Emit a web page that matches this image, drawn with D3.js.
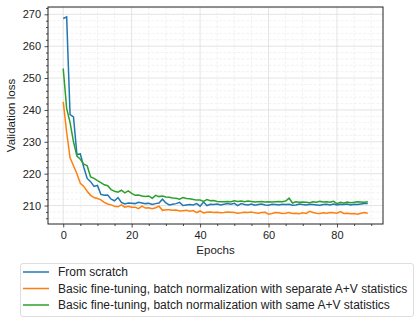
<!DOCTYPE html>
<html>
<head>
<meta charset="utf-8">
<script src="https://cdn.jsdelivr.net/npm/d3@7"></script>
<style>
  body { margin: 0; background: #fff; }
  text { font-family: "Liberation Sans", Arial, sans-serif; }
</style>
</head>
<body>
<div id="chart"></div>
<script>
// values
var seriesNames = [
    "From scratch",
    "Basic fine-tuning, batch normalization with separate A+V statistics",
    "Basic fine-tuning, batch normalization with same A+V statistics"
];
var seriesColors = ["#1f77b4", "#ff7f0e", "#2ca02c"];

var fromScratch = [268.7, 269.2, 238.5, 237.8, 226.0, 226.2, 222.0, 218.5, 217.5, 216.0,
    216.3, 213.5, 213.2, 213.3, 212.0, 211.5, 212.5, 211.0, 210.5, 210.8,
    210.7, 210.6, 211.0, 210.8, 210.6, 210.7, 210.3, 210.6, 210.8, 212.0,
    210.8, 210.2, 210.4, 210.6, 211.0, 210.0, 210.2, 210.3, 210.2, 210.6,
    209.8, 211.1, 210.0, 210.4, 210.3, 210.5, 210.2, 210.4, 210.6, 210.4,
    210.7, 210.0, 210.6, 210.3, 210.2, 210.5, 210.1, 210.3, 210.5, 210.2,
    210.1, 210.4, 210.3, 210.2, 210.4, 210.3, 210.4, 210.1, 210.2, 210.5,
    210.3, 210.2, 210.4, 210.3, 210.2, 210.1, 210.3, 210.4, 210.2, 210.5,
    210.2, 210.4, 210.3, 210.5, 210.2, 210.4, 210.3, 210.5, 210.6, 210.6];

var separateStats = [242.5, 233.0, 225.0, 222.5, 220.0, 217.0, 216.0, 214.5, 213.2, 212.5,
    212.2, 211.8, 211.0, 210.5, 210.2, 209.8, 209.6, 210.2, 209.5, 209.8,
    209.5, 209.5, 209.0, 209.8, 209.2, 209.3, 209.0, 209.3, 209.8, 208.5,
    208.7, 208.7, 208.5, 208.6, 208.3, 208.4, 208.5, 208.2, 208.4, 207.8,
    208.3, 207.7, 207.9, 208.0, 207.8, 207.9, 207.7, 207.8, 208.0, 207.9,
    207.8, 207.6, 207.7, 207.9, 207.8, 208.0, 207.7, 207.6, 207.8, 207.9,
    207.3, 207.5, 207.8, 207.7, 207.5, 207.6, 207.8, 207.5, 207.6, 207.4,
    207.7, 207.5, 208.2, 207.8, 207.6, 207.5, 207.7, 207.6, 207.8, 207.7,
    207.6, 208.1, 207.5, 207.6, 207.4, 207.5, 207.3, 207.6, 207.8, 207.6];

var sameStats = [253.0, 240.5, 236.0, 230.0, 225.5, 224.5, 223.0, 222.5, 219.0, 218.5,
    217.8, 217.2, 216.5, 216.2, 215.0, 214.5, 214.2, 214.8, 214.0, 214.6,
    213.8, 213.2, 213.3, 213.0, 212.8, 213.0, 212.3, 213.2, 212.8, 213.0,
    212.7, 212.6, 212.4, 212.3, 212.0, 212.5, 212.2, 212.1, 211.9, 211.7,
    211.7, 211.3, 211.9, 211.5, 211.6, 211.3, 211.2, 211.2, 211.3, 211.2,
    211.5, 211.3, 211.4, 211.2, 211.4, 211.3, 211.1, 211.2, 211.3, 211.1,
    211.2, 211.1, 211.2, 211.3, 211.2, 211.4, 212.3, 210.8, 211.2, 211.0,
    211.1, 211.0, 210.9, 211.2, 211.0, 211.3, 211.1, 211.2, 211.0, 211.3,
    210.6, 211.0, 210.8, 211.1, 210.9, 211.0, 211.2, 211.1, 211.0, 211.2];

var xTicks = [0, 20, 40, 60, 80];
var yTicks = [210, 220, 230, 240, 250, 260, 270];

var allSeries = [fromScratch, separateStats, sameStats];

// set the dimensions and margins
var W = 419, H = 323;
var margin = { top: 7, right: 36, bottom: 99, left: 48 },
    width = W - margin.left - margin.right,
    height = H - margin.top - margin.bottom;

var svg = d3.select("#chart")
    .append("svg")
    .attr("width", W)
    .attr("height", H)
    .append("g")
    .attr("transform", "translate(" + margin.left + "," + margin.top + ")");

// matplotlib style 5% margins
var n = fromScratch.length;
var xPad = (n - 1) * 0.05;
var x = d3.scaleLinear().domain([-xPad, n - 1 + xPad]).range([0, width]);

var yMin = d3.min(allSeries, function (s) { return d3.min(s); });
var yMax = d3.max(allSeries, function (s) { return d3.max(s); });
var yPad = (yMax - yMin) * 0.05;
var y = d3.scaleLinear().domain([yMin - yPad, yMax + yPad]).range([height, 0]);

// minor grid
var xMinor = d3.range(-5, 95, 5).filter(function (v) { return xTicks.indexOf(v) < 0 && x(v) >= 0 && x(v) <= width; });
var yMinor = d3.range(204, 274, 2).filter(function (v) { return v % 10 != 0 && y(v) >= 0 && y(v) <= height; });

svg.append("g").selectAll("line").data(xMinor).enter().append("line")
    .attr("x1", function (d) { return x(d); }).attr("x2", function (d) { return x(d); })
    .attr("y1", 0).attr("y2", height)
    .attr("stroke", "#efefef").attr("stroke-width", 0.8).attr("stroke-dasharray", "3,1.5");
svg.append("g").selectAll("line").data(yMinor).enter().append("line")
    .attr("y1", function (d) { return y(d); }).attr("y2", function (d) { return y(d); })
    .attr("x1", 0).attr("x2", width)
    .attr("stroke", "#efefef").attr("stroke-width", 0.8).attr("stroke-dasharray", "3,1.5");

// major grid
svg.append("g").selectAll("line").data(xTicks).enter().append("line")
    .attr("x1", function (d) { return x(d); }).attr("x2", function (d) { return x(d); })
    .attr("y1", 0).attr("y2", height)
    .attr("stroke", "#dddddd").attr("stroke-width", 0.8);
svg.append("g").selectAll("line").data(yTicks).enter().append("line")
    .attr("y1", function (d) { return y(d); }).attr("y2", function (d) { return y(d); })
    .attr("x1", 0).attr("x2", width)
    .attr("stroke", "#dddddd").attr("stroke-width", 0.8);

// lines
var line = d3.line()
    .x(function (d, i) { return x(i); })
    .y(function (d) { return y(d); });

svg.append("g").selectAll("path").data(allSeries).enter().append("path")
    .attr("d", line)
    .attr("fill", "none")
    .attr("stroke", function (d, i) { return seriesColors[i]; })
    .attr("stroke-width", 1.5);

// axes
var xAxis = svg.append("g")
    .attr("transform", "translate(0," + height + ")")
    .call(d3.axisBottom(x).tickValues(xTicks).tickSize(3.5).tickPadding(4));
var yAxis = svg.append("g")
    .call(d3.axisLeft(y).tickValues(yTicks).tickSize(3.5).tickPadding(3.5));

svg.append("g")
    .attr("transform", "translate(0," + height + ")")
    .call(d3.axisBottom(x).tickValues(xMinor).tickSize(2).tickFormat(""))
    .select(".domain").remove();
svg.append("g")
    .call(d3.axisLeft(y).tickValues(yMinor).tickSize(2).tickFormat(""))
    .select(".domain").remove();

svg.selectAll(".tick line").attr("stroke", "#222").attr("stroke-width", 0.8);
svg.selectAll(".tick text").attr("font-size", 11).attr("fill", "#222")
    .attr("font-family", "Liberation Sans, Arial, sans-serif");
xAxis.select(".domain").remove();
yAxis.select(".domain").remove();

// frame
svg.append("rect")
    .attr("x", 0).attr("y", 0).attr("width", width).attr("height", height)
    .attr("fill", "none").attr("stroke", "#222").attr("stroke-width", 1);

// axis titles
svg.append("text")
    .attr("x", width / 2).attr("y", height + 30)
    .attr("text-anchor", "middle").attr("font-size", 11.5).attr("fill", "#222")
    .text("Epochs");
svg.append("text")
    .attr("transform", "translate(" + (-33.5) + "," + (height / 2) + ") rotate(-90)")
    .attr("text-anchor", "middle").attr("font-size", 11.5).attr("fill", "#222")
    .text("Validation loss");

// legend
var legend = d3.select("svg").append("g").attr("transform", "translate(20,263)");
legend.append("rect")
    .attr("x", 0.5).attr("y", 0.5).attr("width", 393).attr("height", 53)
    .attr("rx", 2.5).attr("fill", "#fff").attr("stroke", "#d5d5d5").attr("stroke-width", 0.8);

var entry = legend.selectAll(".entry").data(seriesNames).enter().append("g")
    .attr("class", "entry")
    .attr("transform", function (d, i) { return "translate(0," + (9 + i * 16.5) + ")"; });
entry.append("line")
    .attr("x1", 3).attr("x2", 29).attr("y1", 0).attr("y2", 0)
    .attr("stroke", function (d, i) { return seriesColors[i]; }).attr("stroke-width", 1.5);
entry.append("text")
    .attr("x", 38).attr("y", 4.2)
    .attr("font-size", 12).attr("fill", "#222")
    .text(function (d) { return d; });
</script>
</body>
</html>
